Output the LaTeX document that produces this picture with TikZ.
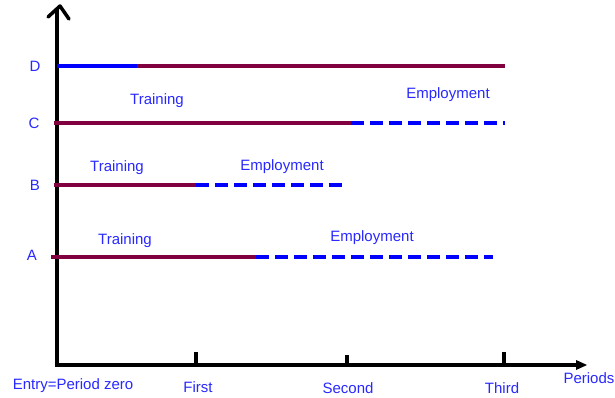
\documentclass[tikz,border=0pt]{standalone}
\usepackage{fontspec}
\setmainfont{Liberation Sans}
\usetikzlibrary{arrows.meta}
\definecolor{lbl}{RGB}{40,40,255}
\definecolor{train}{RGB}{128,0,64}
\definecolor{work}{RGB}{0,0,255}
\begin{document}
\begin{tikzpicture}[x=1pt,y=-1pt,
  txt/.style={text=lbl,font=\fontsize{15}{17}\selectfont,inner sep=0pt},
  axis/.style={line width=3.5pt,black},
  trainline/.style={line width=3.5pt,train},
  workline/.style={line width=4pt,work,dash pattern=on 13pt off 6pt},
  solidwork/.style={line width=3.5pt,work}]
\useasboundingbox (0,0) rectangle (615,398);
% axes
\coordinate (o) at (57,365);
\coordinate (ytop) at (57,10);
\draw[axis,line cap=rect] (ytop) -- (o) -- (577,365);
\draw[axis,line cap=round,line join=round] (48,17) -- (60,6) -- (69,19);
\fill (576,360) -- (587,365) -- (576,370) -- cycle;
% period ticks
\draw[axis] (196,352) -- (196,365);
\draw[axis] (347,355) -- (347,365);
\draw[axis] (504,352) -- (504,365);
% period labels
\node[txt] (p0) at (73,386) {Entry=Period zero};
\node[txt] (p1) at (198,387) {First};
\node[txt] (p2) at (348,388) {Second};
\node[txt] (p3) at (502,388) {Third};
\node[txt] (per) at (589,378) {Periods};
% group labels
\node[txt] (lD) at (35,66) {D};
\node[txt] (lC) at (34,123) {C};
\node[txt] (lB) at (35,185) {B};
\node[txt] (lA) at (32,255) {A};
% D
\draw[solidwork] (57,66) -- (137,66);
\draw[trainline] (137,66) -- (505,66);
% C
\draw[trainline] (54,123) -- (351,123);
\draw[workline] (351,123) -- (505,123);
\node[txt] at (157,101) {Training};
\node[txt] at (448,95) {Employment};
% B
\draw[trainline] (54,185) -- (196,185);
\draw[workline] (196,185) -- (347,185);
\node[txt] at (117,168) {Training};
\node[txt] at (282,167) {Employment};
% A
\draw[trainline] (51,257) -- (256,257);
\draw[workline] (256,257) -- (493,257);
\node[txt] at (125,241) {Training};
\node[txt] at (372,238) {Employment};
\end{tikzpicture}
\end{document}
